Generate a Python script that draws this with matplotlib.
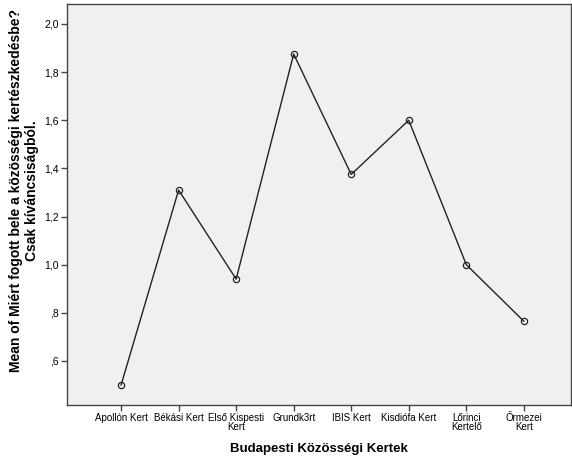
import matplotlib
matplotlib.use("Agg")
import matplotlib.pyplot as plt

plt.rcParams['font.family'] = ['Liberation Sans', 'DejaVu Sans']

categories = ["Apollón Kert", "Békási Kert", "Első Kispesti\nKert", "Grundk3rt",
              "IBIS Kert", "Kisdiófa Kert", "Lőrinci\nKertelő", "Őrmezei\nKert"]
values = [0.50, 1.31, 0.94, 1.875, 1.375, 1.60, 1.00, 0.765]
yticks = [0.6, 0.8, 1.0, 1.2, 1.4, 1.6, 1.8, 2.0]
ytick_labels = [",6", ",8", "1,0", "1,2", "1,4", "1,6", "1,8", "2,0"]

fig = plt.figure(figsize=(5.72, 4.65), dpi=100)
ax = fig.add_axes([67/572, 1 - 405/465, (571-67)/572, (405-4)/465])
ax.set_facecolor('#F0F0F0')
x = list(range(len(categories)))
ax.plot(x, values, color='#222222', linewidth=1.0, marker='o', markersize=4.5,
        markerfacecolor='none', markeredgecolor='#222222', markeredgewidth=0.9)
ax.set_xlim(-0.94, 7.82)
ax.set_ylim(0.417, 2.083)
ax.set_xticks(x)
ax.set_xticklabels(categories, fontsize=7, linespacing=0.85)
ax.set_yticks(yticks)
ax.set_yticklabels(ytick_labels, fontsize=7.5)
for s in ax.spines.values():
    s.set_color('#444444')
    s.set_linewidth(1.0)
ax.tick_params(axis='both', length=4, width=1, color='#444444', pad=2)
ax.set_xlabel("Budapesti Közösségi Kertek", fontsize=9.5, fontweight='bold', labelpad=8)
ax.set_ylabel("Mean of Miért fogott bele a közösségi kertészkedésbe?\nCsak kíváncsiságból.",
              fontsize=10, fontweight='bold', linespacing=1.15)
ax.yaxis.set_label_coords(-0.056, 0.535)
fig.savefig("out.png", dpi=100)
